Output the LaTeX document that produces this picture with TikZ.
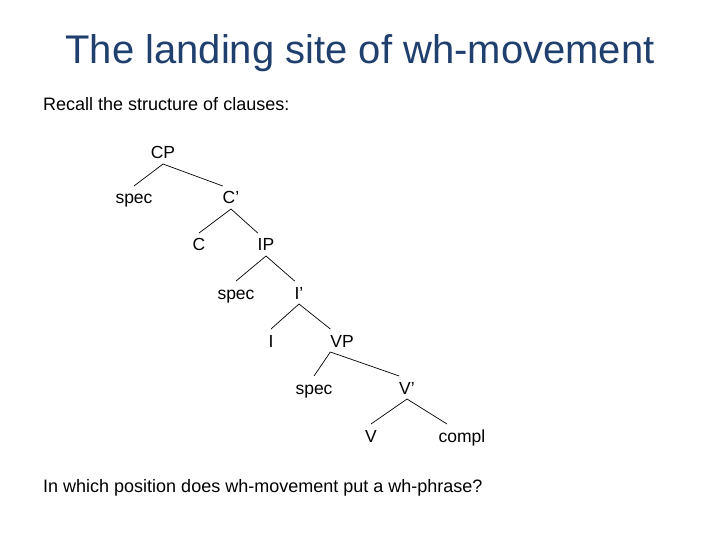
\documentclass[tikz,border=0pt]{standalone}
\usepackage{fontspec}
\setmainfont{Liberation Sans}
\usepackage{xcolor}
\definecolor{titleblue}{HTML}{1F3F6E}
\usetikzlibrary{positioning}

\begin{document}
\begin{tikzpicture}[
  x=1pt, y=-1pt,
  txt/.style={anchor=base west, inner sep=0pt, font=\fontsize{18}{20}\selectfont},
  lbl/.style={anchor=base, inner sep=0pt, outer xsep=0pt, outer ysep=5pt,
    text height=13pt, text depth=0pt, font=\fontsize{17.5}{18}\selectfont},
  br/.style={draw, line width=0.7pt},
]
\useasboundingbox (0,0) rectangle (720,540);
% --- heading ---
\node[anchor=base, inner sep=0pt, text=titleblue, font=\fontsize{40}{44}\selectfont]
  (title) at (360,64) {The landing site of wh-movement};
\node[txt] (intro) at (43,111) {Recall the structure of clauses:};
% --- tree ---
\node[lbl] (cp)    at (163,159) {CP};
\node[lbl] (spc)   at (134,204) {spec};
\node[lbl] (cbar)  at (231,204) {C’};
\node[lbl] (c)     at (199,251) {C};
\node[lbl] (ip)    at (266,251) {IP};
\node[lbl] (spi)   at (236,299) {spec};
\node[lbl] (ibar)  at (299,299) {I’};
\node[lbl] (i)     at (271,347) {I};
\node[lbl] (vp)    at (342,347) {VP};
\node[lbl] (spv)   at (314,394) {spec};
\node[lbl] (vbar)  at (407,394) {V’};
\node[lbl] (v)     at (371,442) {V};
\node[lbl] (compl) at (462,442) {compl};
\draw[br] (cp.south)   -- (spc.north);
\draw[br] (cp.south)   -- (cbar.north west);
\draw[br] (cbar.south) -- (c.north);
\draw[br] (cbar.south) -- (ip.north west);
\draw[br] (ip.south)   -- (spi.north);
\draw[br] (ip.south)   -- (ibar.north west);
\draw[br] (ibar.south) -- (i.north);
\draw[br] (ibar.south) -- (vp.north west);
\draw[br] (vp.south west) -- (spv.north);
\draw[br] (vp.south west) -- (vbar.north west);
\draw[br] (vbar.south) -- (v.north);
\draw[br] (vbar.south) -- ([xshift=-15pt]compl.north);
% --- question ---
\node[txt] (quest) at (43,492) {In which position does wh-movement put a wh-phrase?};
\end{tikzpicture}
\end{document}
